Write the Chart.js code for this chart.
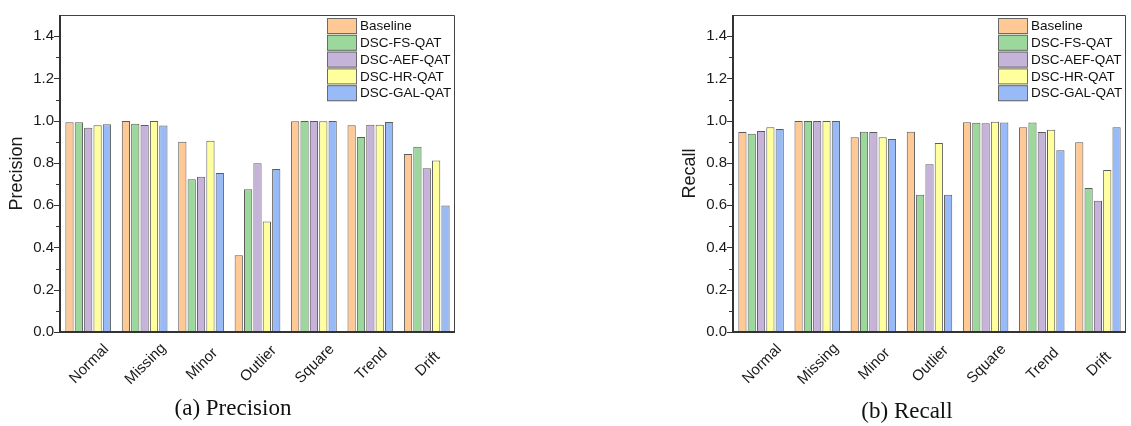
<!DOCTYPE html>
<html>
<head>
<meta charset="utf-8">
<script src="https://cdn.jsdelivr.net/npm/chart.js@4"></script>
<style>
  html, body { margin: 0; padding: 0; background: #fff; }
  body { width: 1131px; height: 426px; position: relative; overflow: hidden; }
  .box { position: absolute; top: 0; height: 426px; }
  .cap { position: absolute; font-family: 'Liberation Serif', 'Times New Roman', serif; font-size: 23px;
         color: #111; transform: translate(-50%, -50%); white-space: nowrap; }
</style>
</head>
<body>
<div class="box" style="left:0;width:460px"><canvas id="precChart" width="460" height="426"></canvas></div>
<div class="box" style="left:673px;width:458px"><canvas id="recChart" width="458" height="426"></canvas></div>
<div class="cap" style="left:233px;top:408px">(a) Precision</div>
<div class="cap" style="left:907px;top:411px">(b) Recall</div>
<script>
const categories = ['Normal', 'Missing', 'Minor', 'Outlier', 'Square', 'Trend', 'Drift'];
const seriesNames = ['Baseline', 'DSC-FS-QAT', 'DSC-AEF-QAT', 'DSC-HR-QAT', 'DSC-GAL-QAT'];
const seriesColors = ['#ffc996', '#9cd79c', '#c6b3da', '#ffff9e', '#98baf6'];

// precision
const precBaseline = [0.992, 0.998, 0.900, 0.363, 0.997, 0.978, 0.842];
const precFS       = [0.993, 0.986, 0.723, 0.675, 0.999, 0.923, 0.876];
const precAEF      = [0.967, 0.980, 0.735, 0.798, 0.999, 0.981, 0.775];
const precHR       = [0.978, 0.999, 0.905, 0.523, 0.997, 0.981, 0.811];
const precGAL      = [0.983, 0.977, 0.752, 0.771, 0.999, 0.994, 0.598];

// recall
const recBaseline = [0.946, 0.998, 0.922, 0.948, 0.993, 0.969, 0.898];
const recFS       = [0.938, 0.998, 0.948, 0.649, 0.990, 0.991, 0.681];
const recAEF      = [0.951, 0.998, 0.946, 0.794, 0.988, 0.946, 0.621];
const recHR       = [0.969, 0.998, 0.922, 0.894, 0.995, 0.957, 0.766];
const recGAL      = [0.960, 0.998, 0.913, 0.649, 0.991, 0.860, 0.969];

const yTickLabels = ['0.0', '0.2', '0.4', '0.6', '0.8', '1.0', '1.2', '1.4'];

Chart.defaults.font.family = "'Liberation Sans', Arial, sans-serif";
Chart.defaults.color = '#222';

// frame, tick marks, rotated category labels and the legend box
const decor = {
  id: 'decor',
  afterDraw(chart) {
    const { ctx, chartArea: a, scales: { x, y } } = chart;
    ctx.save();
    ctx.strokeStyle = '#444';
    ctx.lineWidth = 1;
    ctx.beginPath();
    ctx.moveTo(a.left, a.top + 0.5);
    ctx.lineTo(a.right - 0.5, a.top + 0.5);
    ctx.lineTo(a.right - 0.5, a.bottom);
    ctx.stroke();

    ctx.strokeStyle = '#333';
    ctx.lineWidth = 2;
    ctx.beginPath();
    ctx.moveTo(a.left, a.top);
    ctx.lineTo(a.left, a.bottom);
    ctx.lineTo(a.right, a.bottom);
    ctx.stroke();

    ctx.lineWidth = 1;
    ctx.beginPath();
    for (let i = 0; i <= 14; i++) {
      const py = Math.round(y.getPixelForValue(i / 10)) + 0.5;
      const len = i % 2 === 0 ? 5 : 3;
      ctx.moveTo(a.left - len - 1, py);
      ctx.lineTo(a.left, py);
    }
    ctx.stroke();

    ctx.font = "15px 'Liberation Sans', Arial";
    ctx.fillStyle = '#1a1a1a';
    ctx.textAlign = 'center';
    ctx.textBaseline = 'middle';
    chart.data.labels.forEach((lab, i) => {
      ctx.save();
      ctx.translate(x.getPixelForValue(i) + 1, a.bottom + 32);
      ctx.rotate(-Math.PI / 4);
      ctx.fillText(lab, 0, 0);
      ctx.restore();
    });

    const bx = a.right - 128;
    let by = a.top + 3;
    ctx.font = "13.5px 'Liberation Sans', Arial";
    ctx.textAlign = 'left';
    chart.data.datasets.forEach(ds => {
      ctx.fillStyle = ds.backgroundColor;
      ctx.fillRect(bx, by, 30, 16);
      ctx.strokeStyle = '#6a6a6a';
      ctx.strokeRect(bx + 0.5, by + 0.5, 29, 15);
      ctx.fillStyle = '#111';
      ctx.fillText(ds.label, bx + 33, by + 8.5);
      by += 16.8;
    });
    ctx.restore();
  }
};

function makeChart(id, yTitle, series, top) {
  return new Chart(document.getElementById(id), {
    type: 'bar',
    data: {
      labels: categories,
      datasets: series.map((vals, i) => ({
        label: seriesNames[i],
        data: vals,
        backgroundColor: seriesColors[i],
        borderColor: '#5c5c5c',
        borderWidth: 1,
        categoryPercentage: 0.83,
        barPercentage: 0.88
      }))
    },
    options: {
      responsive: false,
      animation: false,
      layout: { padding: { left: 0, top: top, right: 5, bottom: 0 } },
      plugins: { legend: { display: false }, tooltip: { enabled: false } },
      scales: {
        x: {
          ticks: { display: false },
          grid: { display: false, drawTicks: false },
          border: { display: false },
          afterFit: s => { s.height = 94; }
        },
        y: {
          min: 0,
          max: 1.5,
          ticks: {
            stepSize: 0.1,
            padding: 6,
            font: { size: 15 },
            color: '#1a1a1a',
            callback: v => {
              const k = Math.round(v * 10);
              return (k % 2 === 0 && k <= 14) ? yTickLabels[k / 2] : '';
            }
          },
          grid: { display: false, drawTicks: false },
          border: { display: false },
          title: { display: true, text: yTitle, font: { size: 18 }, color: '#1a1a1a', padding: { top: 6, bottom: 0 } },
          afterFit: s => { s.width = 60; }
        }
      }
    },
    plugins: [decor]
  });
}

makeChart('precChart', 'Precision', [precBaseline, precFS, precAEF, precHR, precGAL], 12);
makeChart('recChart', 'Recall', [recBaseline, recFS, recAEF, recHR, recGAL], 11);
</script>
</body>
</html>
